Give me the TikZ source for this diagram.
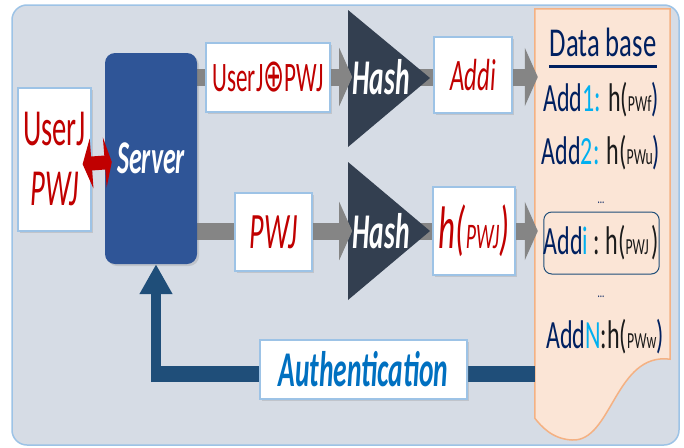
\documentclass[tikz,border=0pt]{standalone}
\usepackage{fontspec}
\setmainfont{Carlito}[FakeStretch=0.55]
\newfontfamily\dbfont{Carlito}[FakeStretch=0.65]
\newfontfamily\rowfont{Carlito}[FakeStretch=0.6]
\newfontfamily\symfont{DejaVu Sans}[FakeStretch=0.55]
\usetikzlibrary{arrows.meta,shadows}

\definecolor{bgblue}{HTML}{D6DCE5}
\definecolor{bgline}{HTML}{9DC3E6}
\definecolor{boxline}{HTML}{9DC3E6}
\definecolor{serverblue}{HTML}{2F5597}
\definecolor{hashdark}{HTML}{333F50}
\definecolor{fbblue}{HTML}{1F4E79}
\definecolor{redc}{HTML}{C00000}
\definecolor{navy}{HTML}{002060}
\definecolor{cyanc}{HTML}{00B0F0}
\definecolor{authblue}{HTML}{0070C0}
\definecolor{dbfill}{HTML}{FBE5D6}
\definecolor{dbline}{HTML}{F4B183}
\definecolor{arrgray}{HTML}{858585}
\definecolor{nearblack}{HTML}{1A1A1A}

\newcommand\fsz[1]{\fontsize{#1}{#1}\selectfont}

\pgfdeclarelayer{back}
\pgfdeclarelayer{mid}
\pgfsetlayers{back,mid,main}

\tikzset{
  whitebox/.style={draw=boxline, line width=1.2pt, fill=white, inner sep=0pt,
    drop shadow={opacity=0.25, shadow xshift=2pt, shadow yshift=-2pt}},
  serverbox/.style={fill=serverblue, rounded corners=10pt, inner sep=0pt,
    text=white, font={\fsz{47}\bfseries\itshape},
    drop shadow={opacity=0.25, shadow xshift=2pt, shadow yshift=-2pt}},
  hashtext/.style={text=white, inner sep=0pt, font={\fsz{50}\bfseries\itshape}},
  tri/.style={fill=hashdark},
  grayarr/.style={draw=arrgray, line width=17pt, -{Triangle[length=13pt,width=58pt]}},
  fbarr/.style={draw=fbblue},
  redarr/.style={draw=redc, line width=14pt,
    {Triangle[length=9pt,width=50pt]}-{Triangle[length=7pt,width=50pt]},
    shorten <=-9pt, shorten >=-7pt},
  dbrow/.style={inner sep=0pt, font={\rowfont\fsz{40}}},
  dots/.style={inner sep=0pt, text=navy, font={\dbfont\fsz{14}}}
}

\begin{document}
\begin{tikzpicture}[x=1pt, y=-1pt]
  \useasboundingbox (0,0) rectangle (684,447);

  % boxes
  \node[whitebox, minimum width=73pt, minimum height=143pt, align=center,
    text=redc, font={\fontsize{52}{60}\selectfont}] (user) at (54.5,159.5) {UserJ\\\textit{PWJ}};
  \node[serverbox, minimum width=92pt, minimum height=211pt] (server) at (151,158.5) {Server};
  \node[whitebox, minimum width=124pt, minimum height=69pt, text=redc, font={\fsz{42}}]
    (xor) at (268,77.5) {UserJ{\symfont\fsz{46}⊕}PWJ};
  \node[hashtext] (hash1) at (381,77) {Hash};
  \node[whitebox, minimum width=78pt, minimum height=76pt, text=redc, font={\fsz{45}\itshape}]
    (addi) at (473,75) {Addi};
  \node[whitebox, minimum width=77pt, minimum height=78pt, text=redc, font={\fsz{51}\itshape}]
    (pwj) at (273.5,232) {PWJ};
  \node[hashtext] (hash2) at (381,231) {Hash};
  \node[whitebox, minimum width=82pt, minimum height=88pt, text=redc, font={\itshape}]
    (hpwj) at (474,231) {{\fsz{60}h(}{\fsz{36}PWJ}{\fsz{60})}};
  \node[whitebox, minimum width=207pt, minimum height=59pt, text=authblue,
    font={\fsz{50}\bfseries\itshape}] (auth) at (363.5,369.5) {Authentication};

  % data base
  \node[minimum width=135pt, minimum height=431pt, inner sep=0pt] (db) at (602.5,224.5) {};
  \node[inner sep=0pt, text=navy, font={\dbfont\fsz{41}}] (dbtitle) at (603,42) {Data base};
  \draw[navy, line width=3pt] ([yshift=-10pt]dbtitle.south west) -- ([yshift=-10pt]dbtitle.south east);
  \node[dbrow] (add1) at (601,100)
    {{\color{navy}Add}{\color{cyanc}1:} {\color{nearblack}h(\fsz{23}PWf}{\color{navy})}};
  \node[dbrow] (add2) at (601,153)
    {{\color{navy}Add}{\color{cyanc}2:} {\color{nearblack}h(\fsz{23}PWu}{\color{navy})}};
  \node[dots] (dots1) at (601,203) {...};
  \node[dbrow, draw=fbblue, line width=1pt, rounded corners=8pt, minimum width=113pt,
    minimum height=62pt] (addi2) at (601.5,243)
    {{\color{navy}Add}{\color{cyanc}i}{\color{nearblack}~:~h(\fsz{23}PWJ\ \fsz{40})}};
  \node[dots] (dots2) at (601,297) {...};
  \node[dbrow] (addn) at (605,337)
    {{\color{navy}Add}{\color{cyanc}N}{\color{nearblack}:h(\fsz{23}PWw}{\color{navy})}};

  \draw[redarr] ([yshift=-4pt]user.east) -- ([yshift=-4pt]server.west);

  \begin{pgfonlayer}{back}
    \draw[fill=bgblue, draw=bgline, line width=1.5pt, rounded corners=15pt] (12,5) rectangle (679,445);
    \draw[fill=dbfill, draw=dbline, line width=1.5pt] (db.north west) -- (db.north east)
      -- ([yshift=81pt]db.south east) .. controls (615,352) and (612,442) .. (572,440)
      .. controls (552,439) and (541,426) .. ([yshift=22pt]db.south west) -- cycle;
  \end{pgfonlayer}

  \begin{pgfonlayer}{mid}
    \draw[grayarr, shorten >=-3pt] (hash1.east) -- (db.west |- hash1);
    \draw[grayarr, shorten >=-3pt] (hash2.east) -- (db.west |- hash2);
    \fill[tri] (348,10) -- (348,147) -- (430,78) -- cycle;
    \fill[tri] (348,162) -- (348,300) -- (430,231) -- cycle;
    \draw[grayarr] (server.east |- hash1) -- (hash1.west);
    \draw[grayarr] (server.east |- hash2) -- (hash2.west);
    \coordinate (fbturn) at (151,374);
    \coordinate (fbup) at (156,382);
    \draw[fbarr, line width=16pt] (db.west |- fbturn) -- (fbturn);
    \draw[fbarr, line width=10pt, -{Triangle[length=30pt,width=31pt]}] (fbup) -- (fbup |- server.south);
  \end{pgfonlayer}
\end{tikzpicture}
\end{document}
